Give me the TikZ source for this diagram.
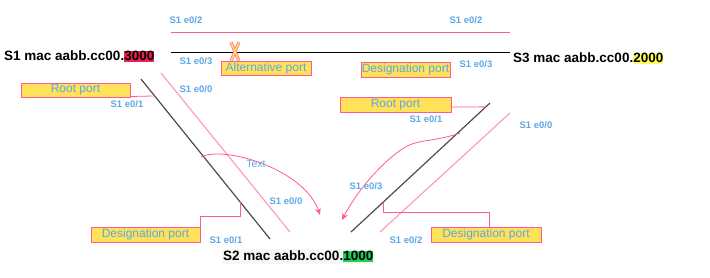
\documentclass[tikz,border=0pt]{standalone}
\usepackage{fontspec}
\setmainfont{Liberation Sans}
\usetikzlibrary{arrows.meta, calc}

\definecolor{lblblue}{HTML}{5DA7E6}
\definecolor{portpink}{HTML}{FF5C8E}
\definecolor{linkpink}{HTML}{FF9CBC}
\definecolor{portyellow}{HTML}{FFE15A}
\definecolor{macred}{HTML}{EC1E52}
\definecolor{macgreen}{HTML}{1ECF57}
\definecolor{macyellow}{HTML}{FFFF5E}

\newcommand\machl[2]{{\setlength\fboxsep{0pt}\colorbox{#1}{\rule[-2pt]{0pt}{11.5pt}#2}}}

\begin{document}
\begin{tikzpicture}[x=1pt,y=-1pt,
  port/.style={draw=portpink,line width=1pt,fill=portyellow,text=lblblue,
    font=\fontsize{12}{14}\selectfont,inner sep=0pt,minimum height=14},
  iface/.style={text=lblblue,font=\fontsize{9.5}{11}\selectfont\bfseries,inner sep=0pt},
  mac/.style={font=\fontsize{13.5}{16}\selectfont\bfseries,inner sep=0pt,anchor=base west},
  callout/.style={draw=portpink,line width=0.8pt},
  hop/.style={draw=portpink,line width=0.8pt,-{Stealth[length=7pt,width=6pt]}}]
\useasboundingbox (0,0) rectangle (710,277);

% switches
\node[mac] (s1) at (4,60) {S1 mac aabb.cc00.\machl{macred}{3000}};
\node[mac] (s3) at (513,62) {S3 mac aabb.cc00.\machl{macyellow}{2000}};
\node[mac,fill=black!3,inner sep=1.5pt] (s2) at (221.5,260) {S2 mac aabb.cc00.\machl{macgreen}{1000}};

% link ends
\coordinate (ta1) at (171,32);  \coordinate (tb1) at (510,32);
\coordinate (ta2) at (171,52);  \coordinate (tb2) at (510,52);
\coordinate (la1) at (141,79);  \coordinate (lb1) at (270,239);
\coordinate (la2) at (161,73);  \coordinate (lb2) at (290,232);
\coordinate (ra1) at (490,103); \coordinate (rb1) at (351,232);
\coordinate (ra2) at (510,113); \coordinate (rb2) at (380,232);

% links
\draw[portpink,line width=1pt] (ta1) -- (tb1);
\draw[black,line width=1pt] (ta2) -- (tb2);
\draw[black!70,line width=1.2pt] (la1) -- (lb1);
\draw[linkpink,line width=1.2pt] (la2) -- (lb2);
\draw[black!70,line width=1.2pt] (ra1) -- (rb1);
\draw[linkpink,line width=1.2pt] (ra2) -- (rb2);

% blocked port
\coordinate (xa) at (231,42); \coordinate (xb) at (239,61);
\coordinate (xc) at (239,42); \coordinate (xd) at (231,61);
\draw[portpink!80,line width=3.2pt] (xa) -- (xb) (xc) -- (xd);
\draw[portyellow,line width=1.4pt] (xa) -- (xb) (xc) -- (xd);

% port roles
\node[port,minimum width=90] (alt) at (266,68.5) {Alternative port};
\node[port,minimum width=89,minimum height=15] (dtop) at (405.5,69.5) {Designation port};
\node[port,minimum width=109] (rootl) at (75.5,90) {Root port};
\node[port,minimum width=111,minimum height=15] (rootr) at (395.5,104.5) {Root port};
\node[port,minimum width=109,minimum height=15] (dleft) at (145.5,234.5) {Designation port};
\node[port,minimum width=110,minimum height=15] (dright) at (486,234.5) {Designation port};

\draw[callout] ([yshift=1]rootl.south east) -- ($(la1)!0.106!(lb1)$);
\draw[callout] ([yshift=-2.5]rootr.east) -- ($(ra1)!0.03!(rb1)$);
\draw[callout] (dleft.north east) -- ++(0,-10) -| ($(la1)!0.77!(lb1)$);
\draw[callout] ($(ra1)!0.77!(rb1)$) -- ++(0,10) -| ([xshift=3]dright.north);

% interfaces
\node[iface] (tl2) at (186,20) {S1 e0/2};
\node[iface] (tr2) at (466,20) {S1 e0/2};
\node[iface] (tl3) at (196,61) {S1 e0/3};
\node[iface] (tr3) at (476,64) {S1 e0/3};
\node[iface] (ul0) at (196,89) {S1 e0/0};
\node[iface] (ul1) at (127,104) {S1 e0/1};
\node[iface] (dl0) at (286,201) {S1 e0/0};
\node[iface] (dl1) at (226,240) {S1 e0/1};
\node[iface] (ur1) at (426,119) {S1 e0/1};
\node[iface] (ur0) at (536,125) {S1 e0/0};
\node[iface] (dr3) at (366,186) {S1 e0/3};
\node[iface] (dr2) at (406,240) {S1 e0/2};

% frames toward S2
\coordinate (h1) at (201,157); \coordinate (h2) at (320,215);
\draw[hop] (h1) .. controls (225,145) and (305,170) .. (h2);
\node[text=lblblue,font=\fontsize{10.5}{12}\selectfont,inner sep=0pt] (txt) at (256,164) {Text};
\coordinate (h3) at (460,133); \coordinate (h4) at (342,220);
\draw[hop] (h3) .. controls (440,140) and (425,140) .. (415,143)
  .. controls (395,148) and (360,185) .. (h4);
\end{tikzpicture}
\end{document}
